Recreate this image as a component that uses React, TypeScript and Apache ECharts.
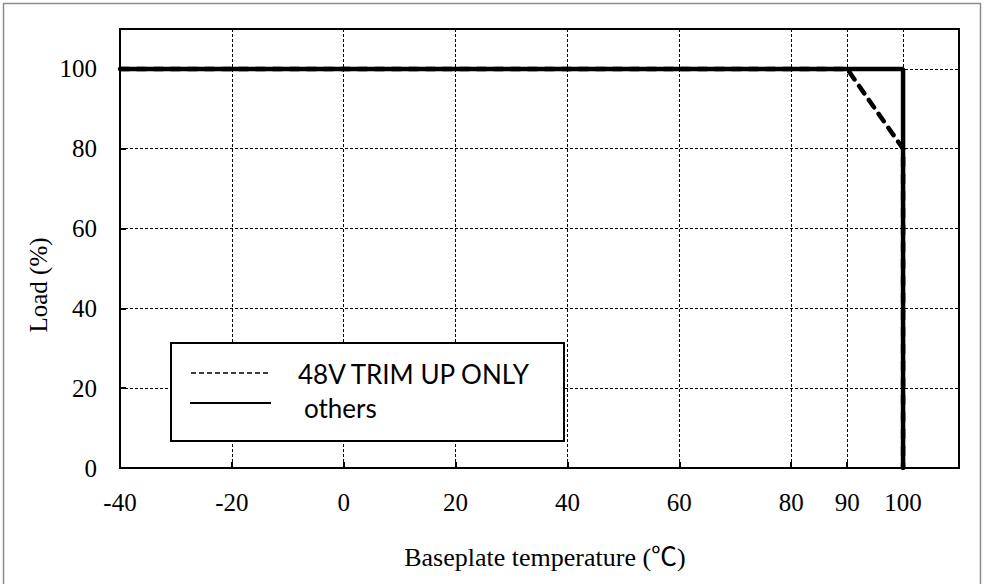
import React, { useEffect, useRef } from "react";
import * as echarts from "echarts";

const xTicks = [-40, -20, 0, 20, 40, 60, 80, 90, 100];
const yTicks = [0, 20, 40, 60, 80, 100];
const othersData: [number, number][] = [
  [-40, 100],
  [100, 100],
  [100, 0],
];
const trimUpData: [number, number][] = [
  [-40, 100],
  [90, 100],
  [100, 80],
  [100, 0],
];
const legendNames = ["48V TRIM UP ONLY", "others"];
const xTitle = "Baseplate temperature (\u2103)";
const yTitle = "Load (%)";

const SERIF = "'Liberation Serif', 'Times New Roman', 'Noto Sans CJK JP', serif";
const SANS = "Lato, 'Open Sans', 'Noto Sans', sans-serif";

export default function App() {
  const ref = useRef<HTMLDivElement>(null);
  useEffect(() => {
    if (!ref.current) return;
    const chart = echarts.init(ref.current, null, { renderer: "svg" });
    const gridLine = { show: true, lineStyle: { color: "#000", width: 1, type: [3, 2] as number[] } };
    chart.setOption({
      animation: false,
      backgroundColor: "#fff",
      grid: {
        left: 120,
        right: 25,
        top: 29,
        bottom: 116,
        show: true,
        borderColor: "#000",
        borderWidth: 2,
        backgroundColor: "transparent",
      },
      xAxis: {
        type: "value",
        min: -40,
        max: 110,
        axisLine: { show: true, onZero: false, lineStyle: { color: "#000", width: 2 } },
        axisTick: {
          show: true,
          inside: true,
          length: 6,
          customValues: xTicks,
          lineStyle: { color: "#000", width: 2 },
        },
        axisLabel: {
          customValues: xTicks,
          color: "#000",
          fontFamily: SERIF,
          fontSize: 25,
          margin: 22,
        },
        splitLine: gridLine,
      },
      yAxis: {
        type: "value",
        min: 0,
        max: 110,
        axisLine: { show: true, onZero: false, lineStyle: { color: "#000", width: 2 } },
        axisTick: {
          show: true,
          inside: true,
          length: 6,
          customValues: yTicks,
          lineStyle: { color: "#000", width: 2 },
        },
        axisLabel: {
          customValues: yTicks,
          color: "#000",
          fontFamily: SERIF,
          fontSize: 25,
          margin: 23,
        },
        splitLine: gridLine,
      },
      series: [
        {
          name: legendNames[1],
          type: "line",
          data: othersData,
          symbol: "none",
          lineStyle: { color: "#000", width: 4.5 },
          z: 3,
        },
        {
          name: legendNames[0],
          type: "line",
          data: trimUpData,
          symbol: "none",
          lineStyle: { color: "#000", width: 4.5, type: [9, 8], cap: "round" },
          z: 4,
        },
      ],
      graphic: [
        {
          type: "rect",
          shape: { x: 3.5, y: 3.5, width: 977, height: 620 },
          style: { fill: "none", stroke: "#8c8c8c", lineWidth: 1.5 },
          silent: true,
        },
        {
          type: "rect",
          shape: { x: 171, y: 343, width: 393, height: 98 },
          style: { fill: "#fff", stroke: "#000", lineWidth: 2 },
          z: 10,
        },
        {
          type: "line",
          shape: { x1: 191, y1: 373, x2: 270, y2: 373 },
          style: { stroke: "#000", lineWidth: 1.5, lineDash: [5, 3] },
          z: 11,
        },
        {
          type: "line",
          shape: { x1: 190, y1: 403, x2: 271, y2: 403 },
          style: { stroke: "#000", lineWidth: 2 },
          z: 11,
        },
        {
          type: "text",
          x: 298,
          y: 374,
          style: {
            text: legendNames[0],
            fontFamily: SANS,
            fontSize: 26,
            fill: "#000",
            verticalAlign: "middle",
            align: "left",
          },
          z: 11,
        },
        {
          type: "text",
          x: 304,
          y: 408,
          style: {
            text: legendNames[1],
            fontFamily: SANS,
            fontSize: 26,
            fill: "#000",
            verticalAlign: "middle",
            align: "left",
          },
          z: 11,
        },
        {
          type: "text",
          x: 545,
          y: 557,
          style: {
            text: xTitle,
            fontFamily: SERIF,
            fontSize: 26,
            fill: "#000",
            verticalAlign: "middle",
            align: "center",
          },
        },
        {
          type: "text",
          x: 38,
          y: 285,
          rotation: Math.PI / 2,
          style: {
            text: yTitle,
            fontFamily: SERIF,
            fontSize: 25,
            fill: "#000",
            verticalAlign: "middle",
            align: "center",
          },
        },
      ],
    });
    return () => chart.dispose();
  }, []);
  return (
    <div
      ref={ref}
      style={{ position: "fixed", left: 0, top: 0, width: 984, height: 584, background: "#fff" }}
    />
  );
}
